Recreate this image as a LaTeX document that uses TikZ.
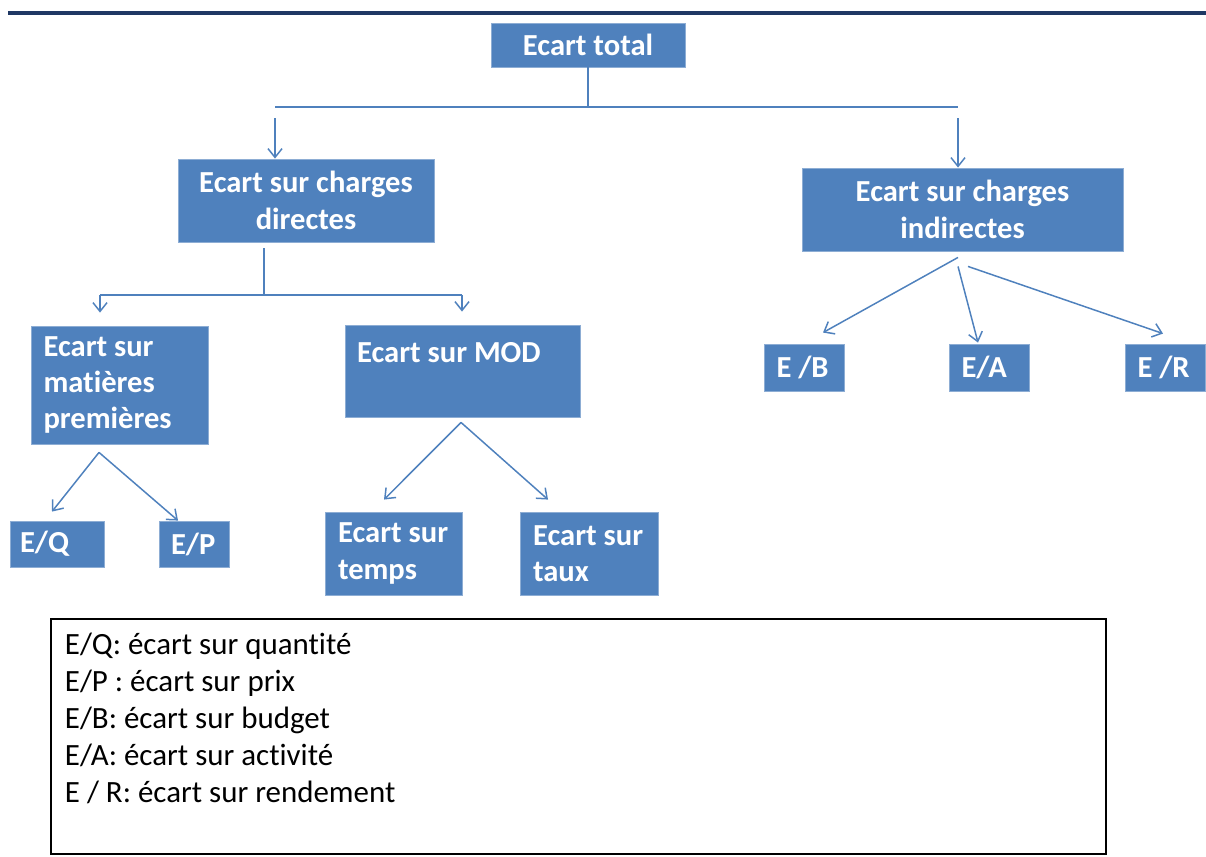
\documentclass[tikz,border=0pt]{standalone}
\usepackage{fontspec}
\setmainfont{Carlito}[Ligatures=NoCommon]
\usetikzlibrary{arrows.meta}
\definecolor{boxblue}{HTML}{4F81BD}
\definecolor{rulenavy}{HTML}{1F3864}

\begin{document}
\begin{tikzpicture}[x=0.02cm, y=-0.02cm,
          box/.style={fill=boxblue, draw=boxblue!65!white, line width=0.5pt, text=white, font=\fontsize{17.4}{20.7}\selectfont\bfseries, align=flush center, inner sep=0pt},
          lbox/.style={box, align=flush left, inner xsep=0.25cm},
          link/.style={draw=boxblue, line width=0.85pt},
          arrow/.style={link, -{Straight Barb[length=5pt, width=8pt]}},
          legendbox/.style={draw, line width=1.1pt, align=flush left, inner xsep=0.28cm, font=\fontsize{17.6}{21}\selectfont}
        ]
          \useasboundingbox (0,0) rectangle (1206,856);
          \draw[rulenavy, line width=1.8pt] (8,13) -- (1206,13);

          % Top
          \node[box, minimum width=3.88cm, minimum height=0.88cm] (total) at (588,45) {Ecart total};

          % Charges
          \node[box, minimum width=5.12cm, minimum height=1.66cm] (direct) at (306,200.5) {Ecart sur charges\\directes};
          \node[box, minimum width=6.42cm, minimum height=1.66cm] (indirect) at (962.5,209.5) {Ecart sur charges\\indirectes};

          % Direct side
          \node[lbox, text width=3.04cm, minimum height=2.36cm] (matieres) at (119.5,385) {Ecart sur\\matières\\premières};
          \node[lbox, text width=4.22cm, minimum height=1.84cm, inner xsep=0.24cm] (mod) at (462.5,371) {Ecart sur MOD\\ \mbox{}};

          \node[lbox, text width=1.48cm, minimum height=0.92cm, inner xsep=0.2cm] (eq) at (57,544) {E/Q};
          \node[lbox, text width=0.92cm, minimum height=0.92cm, inner xsep=0.24cm] (ep) at (194,544) {E/P};
          \node[lbox, text width=2.24cm, minimum height=1.66cm] (temps) at (394,553.5) {Ecart sur\\temps};
          \node[lbox, text width=2.26cm, minimum height=1.66cm] (taux) at (589.5,553.5) {Ecart sur\\taux};

          % Indirect side
          \node[lbox, text width=1.1cm, minimum height=0.94cm] (eb) at (804,367.5) {E /B};
          \node[lbox, text width=1.1cm, minimum height=0.94cm] (ea) at (989,367.5) {E/A};
          \node[lbox, text width=1.1cm, minimum height=0.94cm] (er) at (1165,367.5) {E /R};

          % Connections
          \coordinate (split) at (588,107);
          \coordinate (left) at (275,107);
          \coordinate (right) at (958,107);
          \draw[link] (total) -- (split);
          \draw[link] (left) -- (right);
          \draw[arrow, shorten <=0.22cm] (left) -- (left |- direct.north);
          \draw[arrow, shorten <=0.22cm] (right) -- (right |- indirect.north);

          \coordinate (dsplit) at (264,295);
          \coordinate (dleft) at (100,295);
          \coordinate (dright) at (462,295);
          \draw[link, shorten <=0.12cm] (direct.south -| dsplit) -- (dsplit);
          \draw[link] (dleft) -- (dright);
          \draw[arrow, shorten >=0.26cm] (dleft) -- (dleft |- matieres.north);
          \draw[arrow, shorten >=0.26cm] (dright) -- (dright |- mod.north);

          \draw[arrow] ([xshift=-0.41cm, yshift=-0.16cm]matieres.south) -- ([xshift=-0.1cm, yshift=0.18cm]eq.north);
          \draw[arrow] ([xshift=-0.41cm, yshift=-0.16cm]matieres.south) -- ([xshift=-0.32cm]ep.north);
          \draw[arrow] ([xshift=-0.03cm, yshift=-0.1cm]mod.south) -- ([xshift=-0.2cm, yshift=0.24cm]temps.north);
          \draw[arrow] ([xshift=-0.03cm, yshift=-0.1cm]mod.south) -- ([xshift=-0.83cm, yshift=0.24cm]taux.north);

          \draw[arrow] ([xshift=-0.09cm, yshift=-0.12cm]indirect.south) -- ([xshift=0.38cm, yshift=0.22cm]eb.north);
          \draw[arrow] ([xshift=-0.09cm, yshift=-0.3cm]indirect.south) -- ([xshift=-0.22cm, yshift=0.02cm]ea.north);
          \draw[arrow] ([xshift=0.11cm, yshift=-0.3cm]indirect.south) -- ([xshift=-0.04cm, yshift=0.2cm]er.north);

          % Legend
          \node[legendbox, anchor=north west, text width=20.54cm, minimum height=4.7cm] (legend) at (50,618)
            {E/Q: écart sur quantité\\E/P : écart sur prix\\E/B: écart sur budget\\E/A: écart sur activité\\E / R: écart sur rendement\\ \mbox{}};
        \end{tikzpicture}
\end{document}
